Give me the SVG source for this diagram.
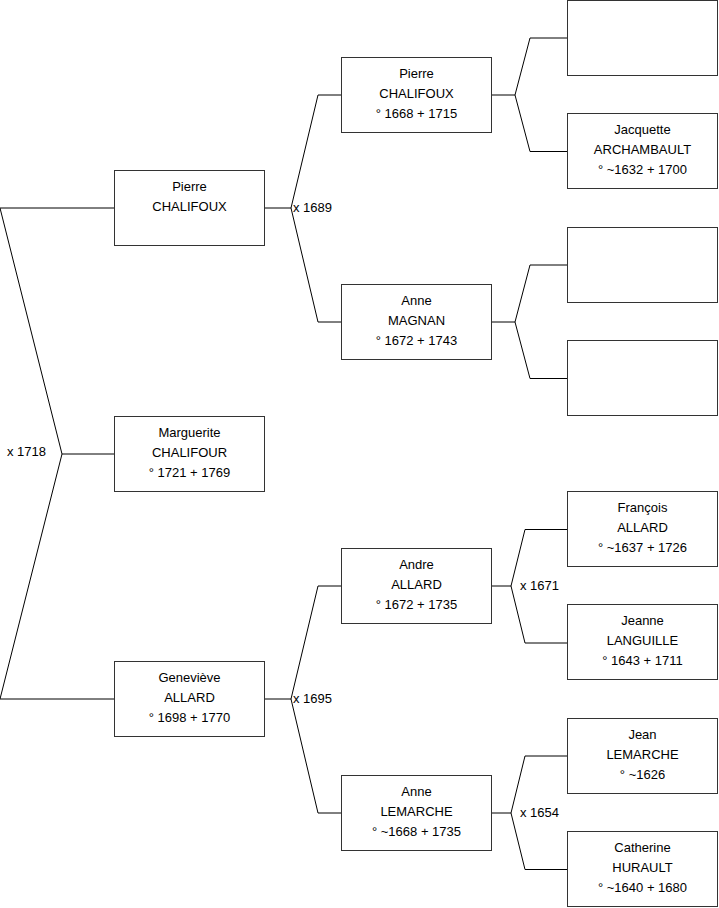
<svg xmlns="http://www.w3.org/2000/svg" width="719" height="908" viewBox="0 0 719 908">
<style>
.box{fill:#fff;stroke:#333;stroke-width:1}
.ln{fill:none;stroke:#000;stroke-width:1}
text{font-family:"Liberation Sans",Arial,sans-serif;font-size:13px;fill:#000}
.c{text-anchor:middle}
</style>
<rect width="719" height="908" fill="#fff"/>
<g id="connectors">
<polyline class="ln" points="114,208 0,208 62,454 0,699 114,699"/>
<line class="ln" x1="62" y1="454" x2="114" y2="454"/>
<polyline class="ln" points="341,95 318,95 291,208 318,322 341,322"/>
<line class="ln" x1="265" y1="208" x2="291" y2="208"/>
<polyline class="ln" points="341,586 318,586 291,699 318,813 341,813"/>
<line class="ln" x1="265" y1="699" x2="291" y2="699"/>
<polyline class="ln" points="567,38 530,38 515,95 530,151.5 567,151.5"/>
<line class="ln" x1="492" y1="95" x2="515" y2="95"/>
<polyline class="ln" points="567,265 530,265 515,322 530,378.5 567,378.5"/>
<line class="ln" x1="492" y1="322" x2="515" y2="322"/>
<polyline class="ln" points="567,529.5 525,529.5 511,586 525,643 567,643"/>
<line class="ln" x1="492" y1="586" x2="511" y2="586"/>
<polyline class="ln" points="567,756 525,756 511,813 525,869.5 567,869.5"/>
<line class="ln" x1="492" y1="813" x2="511" y2="813"/>
<text x="7" y="456">x 1718</text>
<text x="293" y="212">x 1689</text>
<text x="293" y="703">x 1695</text>
<text x="520" y="590">x 1671</text>
<text x="520" y="817">x 1654</text>
</g>
<g id="n-pierre1">
<rect class="box" x="114.5" y="170.5" width="150" height="75"/>
<text class="c" x="189.5" y="191">Pierre</text>
<text class="c" x="189.5" y="211">CHALIFOUX</text>
</g>
<g id="n-marguerite">
<rect class="box" x="114.5" y="416.5" width="150" height="75"/>
<text class="c" x="189.5" y="437">Marguerite</text>
<text class="c" x="189.5" y="457">CHALIFOUR</text>
<text class="c" x="189.5" y="477">° 1721 + 1769</text>
</g>
<g id="n-genevieve">
<rect class="box" x="114.5" y="661.5" width="150" height="75"/>
<text class="c" x="189.5" y="682">Geneviève</text>
<text class="c" x="189.5" y="702">ALLARD</text>
<text class="c" x="189.5" y="722">° 1698 + 1770</text>
</g>
<g id="n-pierre2">
<rect class="box" x="341.5" y="57.5" width="150" height="75"/>
<text class="c" x="416.5" y="78">Pierre</text>
<text class="c" x="416.5" y="98">CHALIFOUX</text>
<text class="c" x="416.5" y="118">° 1668 + 1715</text>
</g>
<g id="n-anne-magnan">
<rect class="box" x="341.5" y="284.5" width="150" height="75"/>
<text class="c" x="416.5" y="305">Anne</text>
<text class="c" x="416.5" y="325">MAGNAN</text>
<text class="c" x="416.5" y="345">° 1672 + 1743</text>
</g>
<g id="n-andre">
<rect class="box" x="341.5" y="548.5" width="150" height="75"/>
<text class="c" x="416.5" y="569">Andre</text>
<text class="c" x="416.5" y="589">ALLARD</text>
<text class="c" x="416.5" y="609">° 1672 + 1735</text>
</g>
<g id="n-anne-lemarche">
<rect class="box" x="341.5" y="775.5" width="150" height="75"/>
<text class="c" x="416.5" y="796">Anne</text>
<text class="c" x="416.5" y="816">LEMARCHE</text>
<text class="c" x="416.5" y="836">° ~1668 + 1735</text>
</g>
<g id="n-empty1">
<rect class="box" x="567.5" y="0.5" width="150" height="75"/>
</g>
<g id="n-jacquette">
<rect class="box" x="567.5" y="113.5" width="150" height="75"/>
<text class="c" x="642.5" y="134">Jacquette</text>
<text class="c" x="642.5" y="154">ARCHAMBAULT</text>
<text class="c" x="642.5" y="174">° ~1632 + 1700</text>
</g>
<g id="n-empty2">
<rect class="box" x="567.5" y="227.5" width="150" height="75"/>
</g>
<g id="n-empty3">
<rect class="box" x="567.5" y="340.5" width="150" height="75"/>
</g>
<g id="n-francois">
<rect class="box" x="567.5" y="491.5" width="150" height="75"/>
<text class="c" x="642.5" y="512">François</text>
<text class="c" x="642.5" y="532">ALLARD</text>
<text class="c" x="642.5" y="552">° ~1637 + 1726</text>
</g>
<g id="n-jeanne">
<rect class="box" x="567.5" y="604.5" width="150" height="75"/>
<text class="c" x="642.5" y="625">Jeanne</text>
<text class="c" x="642.5" y="645">LANGUILLE</text>
<text class="c" x="642.5" y="665">° 1643 + 1711</text>
</g>
<g id="n-jean">
<rect class="box" x="567.5" y="718.5" width="150" height="75"/>
<text class="c" x="642.5" y="739">Jean</text>
<text class="c" x="642.5" y="759">LEMARCHE</text>
<text class="c" x="642.5" y="779">° ~1626</text>
</g>
<g id="n-catherine">
<rect class="box" x="567.5" y="831.5" width="150" height="75"/>
<text class="c" x="642.5" y="852">Catherine</text>
<text class="c" x="642.5" y="872">HURAULT</text>
<text class="c" x="642.5" y="892">° ~1640 + 1680</text>
</g>
</svg>
